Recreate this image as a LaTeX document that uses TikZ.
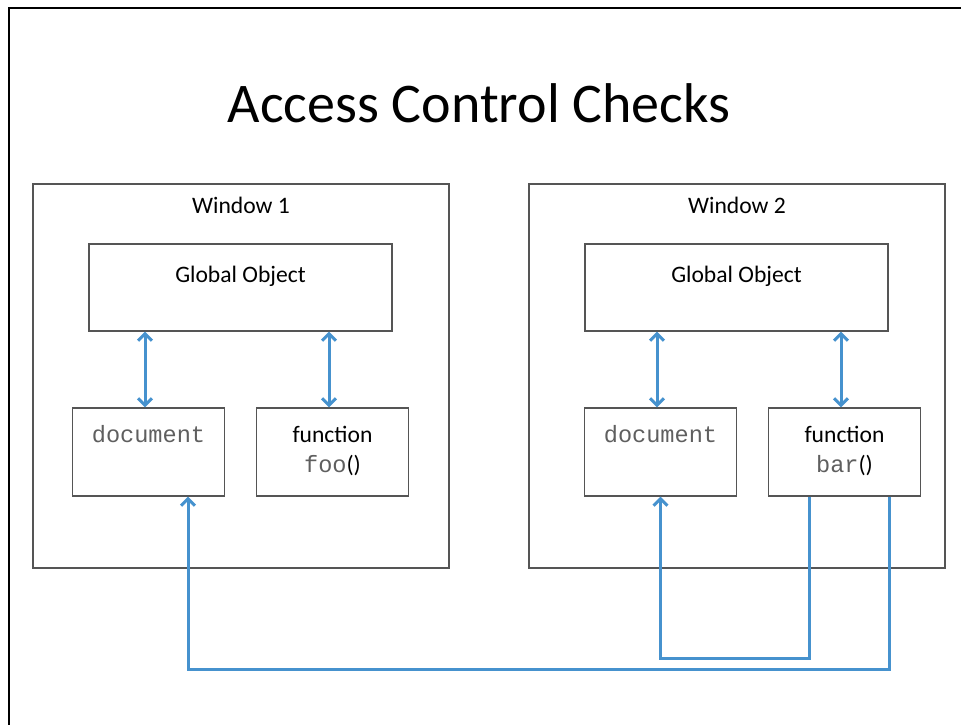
\documentclass[tikz,border=0pt]{standalone}
\usepackage{fontspec}
\setmainfont{Carlito}
\newfontfamily\codefont{Liberation Mono}
\usetikzlibrary{arrows.meta}
\definecolor{linkblue}{RGB}{70,146,206}
\definecolor{boxgrey}{RGB}{85,85,85}
\definecolor{codegrey}{RGB}{95,95,95}
\tikzset{
	box/.style={draw=boxgrey, line width=1.2pt, rectangle, inner sep=0pt},
	lbl/.style={anchor=base, inner sep=0pt, font=\fontsize{23.6}{28}\selectfont},
	link/.style={draw=linkblue, line width=3pt},
}
\newcommand{\code}[1]{{\codefont\color{codegrey}#1}}

\begin{document}
\begin{tikzpicture}[x=1pt, y=-1pt, >={Straight Barb[length=7pt,width=14pt]}]
		\useasboundingbox (0,0) rectangle (961,725);
		\draw[line width=2.6pt] (9,726) -- (9,8) -- (962,8);

		\node[anchor=base, inner sep=0pt, font=\fontsize{56}{60}\selectfont] (title) at (479,122) {Access Control Checks};

		% Windows
		\node[box, minimum width=416pt, minimum height=384pt] (win1) at (241,376) {};
		\node[box, minimum width=416pt, minimum height=384pt] (win2) at (737,376) {};
		\node[lbl] (win1t) at (241,213) {Window 1};
		\node[lbl] (win2t) at (737,213) {Window 2};

		\node[box, minimum width=303pt, minimum height=87pt] (go1) at (240.5,287.5) {};
		\node[box, minimum width=303pt, minimum height=87pt] (go2) at (736.5,287.5) {};
		\node[lbl] (go1t) at (240.5,282) {Global Object};
		\node[lbl] (go2t) at (736.5,282) {Global Object};

		\node[box, minimum width=152pt, minimum height=88pt] (doc1) at (148.5,452) {};
		\node[box, minimum width=152pt, minimum height=88pt] (foo) at (332.5,452) {};
		\node[box, minimum width=152pt, minimum height=88pt] (doc2) at (660.5,452) {};
		\node[box, minimum width=152pt, minimum height=88pt] (bar) at (844.5,452) {};
		\node[lbl] (doc1t) at (148.5,442) {\code{document}};
		\node[lbl] (doc2t) at (660.5,442) {\code{document}};
		\node[lbl] (foot) at (332.5,442) {function};
		\node[lbl] (foon) at (332.5,472) {\code{foo}()};
		\node[lbl] (bart) at (844.5,442) {function};
		\node[lbl] (barn) at (844.5,472) {\code{bar}()};

		% Verbindungen
		\coordinate (a1) at (145,0);
		\coordinate (a2) at (329,0);
		\coordinate (a3) at (657,0);
		\coordinate (a4) at (841,0);
		\draw[link, <->] (go1.south -| a1) -- (doc1.north -| a1);
		\draw[link, <->] (go1.south -| a2) -- (foo.north -| a2);
		\draw[link, <->] (go2.south -| a3) -- (doc2.north -| a3);
		\draw[link, <->] (go2.south -| a4) -- (bar.north -| a4);

		\coordinate (c1) at (809,658);
		\coordinate (c2) at (889,669);
		\coordinate (c3) at (188,0);
		\draw[link, ->] (bar.south -| c1) -- (c1) -| (doc2.south);
		\draw[link, ->] (bar.south -| c2) -- (c2) -| (doc1.south -| c3);
	\end{tikzpicture}
\end{document}
